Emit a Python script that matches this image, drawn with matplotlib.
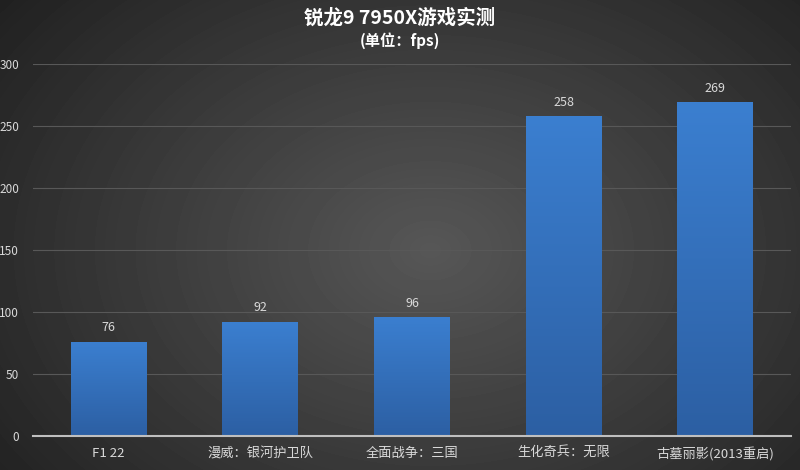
import numpy as np
import matplotlib.pyplot as plt
from matplotlib.colors import LinearSegmentedColormap

plt.rcParams['font.family'] = ['Noto Sans CJK SC', 'DejaVu Sans']

games = ['F1 22', '漫威：银河护卫队', '全面战争：三国', '生化奇兵：无限', '古墓丽影(2013重启)']
fps = [76, 92, 96, 258, 269]
yticks = [0, 50, 100, 150, 200, 250, 300]

fig = plt.figure(figsize=(8, 4.7), dpi=100)

# radial grey background, lighter in the middle
bg = fig.add_axes([0, 0, 1, 1], zorder=0)
yy, xx = np.mgrid[0:470, 0:800]
r = np.sqrt(((xx - 430) / 520.0) ** 2 + ((yy - 250) / 380.0) ** 2)
shade = np.clip(0.34 - 0.2 * r, 0.12, 0.34)
bg.imshow(shade, cmap='gray', vmin=0, vmax=1, aspect='auto', extent=[0, 1, 0, 1])
bg.axis('off')

ax = fig.add_axes([0.041, 0.0723, 0.948, 0.7915], zorder=1)
ax.patch.set_alpha(0)

x = np.arange(len(games))
bars = ax.bar(x, fps, width=0.5, color='#3676c6', zorder=3)

# vertical gradient on each bar
cmap = LinearSegmentedColormap.from_list('b', ['#2c5fa3', '#3b7fd0'])
grad = np.linspace(0, 1, 256).reshape(-1, 1)
for b in bars:
    bx, by = b.get_x(), b.get_y()
    w, h = b.get_width(), b.get_height()
    im = ax.imshow(grad, cmap=cmap, aspect='auto', origin='lower',
                   extent=[bx, bx + w, by, by + h], zorder=3)
    im.set_clip_path(b)

for xi, v in zip(x, fps):
    ax.text(xi, v + 6, str(v), ha='center', va='bottom', color='#d9d9d9', fontsize=9)

ax.set_xlim(-0.5, len(games) - 0.5)
ax.set_ylim(0, 300)
ax.set_yticks(yticks)
ax.set_xticks(x)
ax.set_xticklabels(games)
ax.tick_params(axis='both', length=0, colors='#d9d9d9')
ax.tick_params(axis='x', labelsize=9.5, pad=8)
ax.tick_params(axis='y', labelsize=8.5, pad=10)
ax.grid(axis='y', color='#585858', linewidth=0.8, zorder=1)
for s in ['top', 'right', 'left']:
    ax.spines[s].set_visible(False)
ax.spines['bottom'].set_color('#bfbfbf')
ax.spines['bottom'].set_linewidth(1.5)
ax.spines['bottom'].set_zorder(4)

fig.text(0.5, 0.962, '锐龙9 7950X游戏实测', ha='center', va='center',
         color='white', fontsize=14, fontweight='bold')
fig.text(0.5, 0.914, '(单位：fps)', ha='center', va='center',
         color='white', fontsize=11, fontweight='bold')

fig.savefig('out.png', dpi=100)
